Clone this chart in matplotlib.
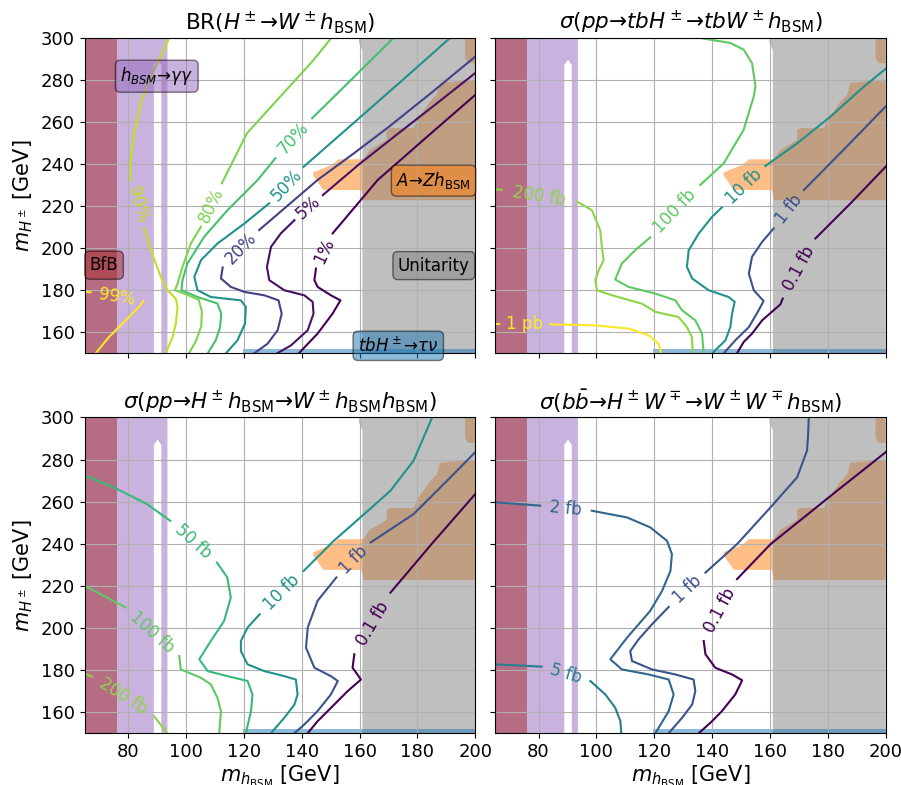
import matplotlib
matplotlib.use('Agg')
import matplotlib.pyplot as plt
import numpy as np
from matplotlib.colors import Normalize, LogNorm

# excluded regions (m_hBSM, m_H+-)
bfb_x = [65, 76]
gamma_x = [65, 88.9, 88.9, 90.2, 91.5, 91.5, 93.6, 93.6, 65]
gamma_y = [150, 150, 287, 289.5, 287, 150, 150, 300, 300]
azh_x = [144.0, 147.5, 160.7, 161.3, 200.0, 200.0, 187.8, 186.7, 184.4, 180.3, 178.6,
         170.5, 169.4, 169.4, 163.6, 161.3, 152.7, 150.4, 144.0]
azh_y = [234.5, 227.6, 227.6, 222.8, 222.8, 280.0, 278.5, 272.9, 269.7, 261.7, 257.0,
         257.0, 256.2, 251.4, 246.7, 242.2, 242.2, 239.5, 236.0]
azh2_x = [196.5, 196.5, 197.6, 200, 200]
azh2_y = [300, 290.3, 287.9, 287.9, 300]
unit_x = [159.8, 159.8, 161, 161, 200, 200]
unit_y = [300, 297.5, 294, 150, 150, 300]
tau_x = [119.7, 200]
tau_y = [150, 152.2]

# contours: (points before label, points after label)
br99 = ([(65, 179.3), (67, 179.0)],
        [(85.3, 174.9), (83.8, 172.1), (78.6, 164.9), (73.4, 157.8), (68.8, 150)])
br90 = ([(94.3, 300), (90.7, 289.5), (87.3, 280), (84.4, 268.9), (82.1, 254.6), (80.9, 241.9), (80.9, 232.4)],
        [(85.6, 209.4), (87.9, 199), (91.3, 186.4), (93.6, 180), (96.5, 176), (97.1, 172.1), (96.5, 164.1),
         (95.4, 157.8), (93, 150)])
br80 = ([(150.3, 300), (144.2, 289.5), (132.6, 272), (121.1, 254.6), (112.4, 230.8)],
        [(105.2, 210.2), (101.7, 202.2), (98.8, 191.1), (97.1, 183.2), (96.2, 180), (99.4, 178.4), (104.4, 175.5),
         (105.5, 170), (105.3, 163), (103.5, 156), (101, 150)])
br70 = ([(171.8, 300), (157.5, 280.5), (143.6, 261.7)],
        [(130.9, 242.7), (124.8, 232.4), (114.4, 218.1), (106.3, 205.4), (100.5, 192.7), (98.8, 184.8), (98.5, 180),
         (104, 176.8), (110.9, 173.7), (112.2, 168.9), (111.8, 162.5), (110.3, 156.2), (107.5, 150)])
br50 = ([(191.4, 300), (175, 280), (158, 259.5), (140.7, 238.7)],
        [(128.8, 221.3), (120.2, 211.7), (110.9, 202.2), (105.2, 194.3), (102.9, 186.4), (104, 180), (108.6, 176.8),
         (119, 175.2), (120.7, 172.1), (120.4, 164.1), (117.8, 156.2), (113.8, 150)])
br20 = ([(200, 291), (185, 274), (170, 257.5), (158, 245), (145.5, 232.4), (125.3, 208.6)],
        [(112.7, 190.8), (112.1, 185.6), (115.5, 181.6), (120.2, 179.2), (127.1, 177.6), (132, 175.2), (133.1, 168.9),
         (131.7, 161), (128.2, 154.6), (123.6, 150)])
br5 = ([(200, 283.2), (186, 268), (172, 253), (160, 240), (147.3, 225.2)],
       [(137.5, 213.3), (132.8, 207), (129.4, 200.6), (128, 191.1), (128.8, 184.8), (134, 180), (140.9, 177.6),
        (143.8, 174.5), (144.1, 168.9), (142.1, 161), (136.3, 153.8), (131.5, 150)])
br1 = ([(200, 272.8), (183, 252.5), (166.3, 232.4), (150.7, 207)],
       [(144.95, 190.3), (144.4, 184.8), (145.5, 181.6), (150.1, 177.6), (153.4, 175.2), (150.7, 168.9),
        (145.5, 159.4), (139, 150)])
br_levels = [1, 5, 20, 50, 70, 80, 90, 99]
br_labels = ['1%', '5%', '20%', '50%', '70%', '80%', '90%', '99%']
br_lines = [br1, br5, br20, br50, br70, br80, br90, br99]

tb1pb = ([(65, 163.8), (66.2, 163.8)],
         [(84, 163.8), (99.6, 163.3), (111.1, 161.8), (118.1, 158.6), (121.5, 154.6), (122.4, 150)])
tb200 = ([(65, 227.9), (67.2, 227.7)],
         [(93.3, 222.1), (98.4, 218.1), (101.3, 208.6), (101.9, 200.6), (102.5, 194.3), (100.8, 189.5), (99.6, 184.8),
          (100.2, 180), (105.4, 177.6), (115.8, 173.6), (120.4, 169.7), (128.4, 167.3), (131.3, 162.5),
          (133, 157.8), (133.3, 150)])
tb100 = ([(135.2, 300), (146.3, 297.5), (150.9, 294.3), (153.8, 287.9), (155, 276.8), (154.4, 272.1), (150.9, 256.2),
          (144, 240.3), (135.9, 230)],
         [(118.6, 205.1), (113.4, 199), (108.8, 192.7), (106.5, 185.1), (111.1, 181.6), (120.4, 178.4), (127.3, 175.2),
          (129.6, 170.5), (134.2, 165.7), (136.5, 159.4), (137.1, 150)])
tb10 = ([(200, 285.2), (192.5, 276.8), (180.9, 262.5), (169.4, 249.8), (158.4, 239)],
        [(143.4, 219.4), (140, 214.9), (135.4, 207), (131.9, 199), (131.3, 191.1), (133.1, 185.6), (138.8, 180),
         (145.7, 176.8), (147.8, 174.5), (146.9, 168.9), (146.3, 162.5), (144.6, 156.2), (140, 150)])
tb1 = ([(200, 267.3), (186, 247.5), (171.7, 227.6)],
       [(161.3, 209.4), (157.3, 203), (153.8, 195.9), (152.7, 187.9), (154.4, 180), (157.8, 174.9), (156.1, 170.5),
        (152.7, 162.5), (148, 156.2), (144, 150)])
tb01 = ([(200, 238.7), (188, 221.5), (175.7, 204.6)],
        [(164.4, 176), (163.6, 173.3), (157.3, 165.7), (153.8, 159.4), (150.9, 155.4), (148.6, 150)])
tb_levels = [0.1, 1, 10, 100, 200, 1000]
tb_labels = ['0.1 fb', '1 fb', '10 fb', '100 fb', '200 fb', '1 pb']
tb_lines = [tb01, tb1, tb10, tb100, tb200, tb1pb]

hh200 = ([(65, 178.4), (67.5, 176.8)],
         [(89, 158.1), (93.5, 150)])
hh100 = ([(65, 220), (72, 215), (79.2, 209.7)],
         [(97.7, 186.7), (98.2, 180.3), (105.2, 176.3), (108.6, 173.2), (110.9, 166.8), (112.1, 160.5), (111.5, 150)])
hh50 = ([(65, 272.5), (75, 266.8), (86.5, 258.9), (94.6, 250.9)],
        [(110.7, 231.1), (114.3, 224), (115.5, 214.4), (113.2, 203.3), (108.6, 193.8), (104.6, 185.1), (107.5, 179.5),
         (114.4, 177.1), (121.3, 174.8), (123, 168.4), (122.5, 160.5), (120.7, 150)])
hh10 = ([(185.1, 300), (178.7, 279.5), (170.7, 265.2), (160.3, 252.5), (151.1, 241.4), (140.7, 227.1)],
        [(125.5, 206.5), (121.3, 200.2), (119, 193.8), (119, 189), (121.3, 182.7), (127.1, 179.5), (134, 177.1),
         (138, 175.5), (138.6, 168.4), (137.5, 163.6), (134, 157.3), (129.4, 150)])
hh1 = ([(200, 283.5), (190.3, 270), (178.7, 254.1), (163.8, 240.6)],
       [(152, 224), (145.5, 212.9), (142.1, 200.2), (141.5, 190.6), (144.4, 181.1), (150.1, 177.1), (152.5, 174.8),
        (150.1, 168.4), (145.5, 160.5), (140.9, 154.1), (137.5, 150)])
hh01 = ([(200, 263.6), (185, 240), (170.7, 216.8)],
        [(158.2, 187.5), (157.6, 181.1), (160.5, 175.5), (155.9, 170), (150.1, 162), (145.5, 155.7), (142.1, 150)])
hh_levels = [0.1, 1, 10, 50, 100, 200]
hh_labels = ['0.1 fb', '1 fb', '10 fb', '50 fb', '100 fb', '200 fb']
hh_lines = [hh01, hh1, hh10, hh50, hh100, hh200]

bb5 = ([(65, 182.7), (73, 182.2), (81.1, 181.6)],
       [(97.9, 174.8), (103.1, 168.4), (106.5, 162.1), (108.3, 155.7), (108.6, 150)])
bb2 = ([(65, 259.7), (72, 259), (80.6, 258.1)],
       [(98.4, 255.7), (110.6, 252.5), (118.6, 247.8), (124.4, 241.4), (126.1, 235.1), (125.6, 227.1), (122.7, 217.6),
        (118.6, 208.1), (110.6, 195.4), (104.8, 185.1), (108.8, 180.3), (118.1, 177.9), (125, 175.5), (126.7, 168.4),
        (125, 160.5), (120.4, 150)])
bb1 = ([(173.4, 300), (173.2, 292), (172.8, 284.3), (169.4, 271.6), (160.2, 257.3), (148.6, 239.8), (137.7, 226.3)],
       [(125, 210), (119.2, 201.7), (114.6, 194.6), (111.7, 189), (112.3, 184.3), (119.2, 180.3), (127.3, 177.9),
        (133.6, 175.5), (134.2, 170), (133.1, 163.6), (129.6, 157.3), (125, 150)])
bb01 = ([(200, 283.5), (183.2, 265.2), (171.7, 252.5), (160.2, 239.8), (148.6, 223.2)],
        [(137.1, 193.8), (137.7, 187.5), (141.1, 181.1), (146.9, 177.9), (150.4, 175.1), (148, 168.4), (143.4, 160.5),
         (140, 155.7), (135.4, 150)])
bb_levels = [0.1, 1, 2, 5]
bb_labels = ['0.1 fb', '1 fb', '2 fb', '5 fb']
bb_lines = [bb01, bb1, bb2, bb5]

titles = [r'BR($H^\pm→W^\pm h_{\rm BSM}$)',
          r'$\sigma(pp→tbH^\pm→tbW^\pm h_{\rm BSM})$',
          r'$\sigma(pp→H^\pm h_{\rm BSM}→W^\pm h_{\rm BSM}h_{\rm BSM})$',
          r'$\sigma(b\bar{b}→H^\pm W^\mp→W^\pm W^\mp h_{\rm BSM})$']

cmap = plt.cm.viridis

fig, axes = plt.subplots(2, 2, figsize=(9.01, 7.85), dpi=100, sharex=True, sharey=True)
fig.subplots_adjust(left=0.094, right=0.983, top=0.952, bottom=0.066, wspace=0.051, hspace=0.203)


def draw_line(ax, line, label, color):
    a, b = line
    ax.plot([p[0] for p in a], [p[1] for p in a], color=color, lw=1.5)
    ax.plot([p[0] for p in b], [p[1] for p in b], color=color, lw=1.5)
    p0 = ax.transData.transform(a[-1])
    p1 = ax.transData.transform(b[0])
    ang = np.degrees(np.arctan2(p1[1] - p0[1], p1[0] - p0[0]))
    if ang > 90:
        ang -= 180
    if ang < -90:
        ang += 180
    xm = (a[-1][0] + b[0][0]) / 2
    ym = (a[-1][1] + b[0][1]) / 2
    ax.text(xm, ym, label, rotation=ang, rotation_mode='anchor', ha='center', va='center',
            color=color, fontsize=12)


for ax, t in zip(axes.flat, titles):
    ax.set_xlim(65, 200)
    ax.set_ylim(150, 300)
    ax.fill(gamma_x, gamma_y, color='tab:purple', alpha=0.5, lw=0)
    ax.axvspan(bfb_x[0], bfb_x[1], color='brown', alpha=0.5, lw=0)
    ax.fill(azh_x, azh_y, color='tab:orange', alpha=0.5, lw=0)
    ax.fill(azh2_x, azh2_y, color='tab:orange', alpha=0.5, lw=0)
    ax.fill(unit_x, unit_y, color='gray', alpha=0.5, lw=0)
    ax.fill_between(tau_x, tau_y[0], tau_y[1], color='tab:blue', alpha=0.5, lw=0)
    ax.grid(True)
    ax.set_title(t, fontsize=15.5)
    ax.set_xticks([80, 100, 120, 140, 160, 180, 200])
    ax.set_yticks([160, 180, 200, 220, 240, 260, 280, 300])
    ax.tick_params(labelsize=13)

pnorm = Normalize(1, 99)
for line, lev, lab in zip(br_lines, br_levels, br_labels):
    draw_line(axes[0, 0], line, lab, cmap(pnorm(lev)))

fnorm = LogNorm(0.1, 1000)
for ax, lines, levels, labels in [(axes[0, 1], tb_lines, tb_levels, tb_labels),
                                  (axes[1, 0], hh_lines, hh_levels, hh_labels),
                                  (axes[1, 1], bb_lines, bb_levels, bb_labels)]:
    for line, lev, lab in zip(lines, levels, labels):
        draw_line(ax, line, lab, cmap(fnorm(lev)))

ax = axes[0, 0]
ax.text(89.9, 281.7, r'$h_{BSM}→\gamma\gamma$', ha='center', va='center', fontsize=12,
        bbox=dict(boxstyle='round', facecolor='tab:purple', alpha=0.5))
ax.text(71.7, 191.9, 'BfB', ha='center', va='center', fontsize=12,
        bbox=dict(boxstyle='round', facecolor='brown', alpha=0.5))
ax.text(185.6, 232.1, r'$A→Zh_{\rm BSM}$', ha='center', va='center', fontsize=12,
        bbox=dict(boxstyle='round', facecolor='tab:orange', alpha=0.5))
ax.text(185.7, 191.7, 'Unitarity', ha='center', va='center', fontsize=12,
        bbox=dict(boxstyle='round', facecolor='gray', alpha=0.5))
ax.text(173.4, 153.6, r'$tbH^\pm→\tau\nu$', ha='center', va='center', fontsize=12,
        bbox=dict(boxstyle='round', facecolor='tab:blue', alpha=0.5))

for ax in axes[1]:
    ax.set_xlabel(r'$m_{h_{\rm BSM}}$ [GeV]', fontsize=15, labelpad=2)
for ax in axes[:, 0]:
    ax.set_ylabel(r'$m_{H^\pm}$ [GeV]', fontsize=15)

fig.savefig('out.png', dpi=100)
